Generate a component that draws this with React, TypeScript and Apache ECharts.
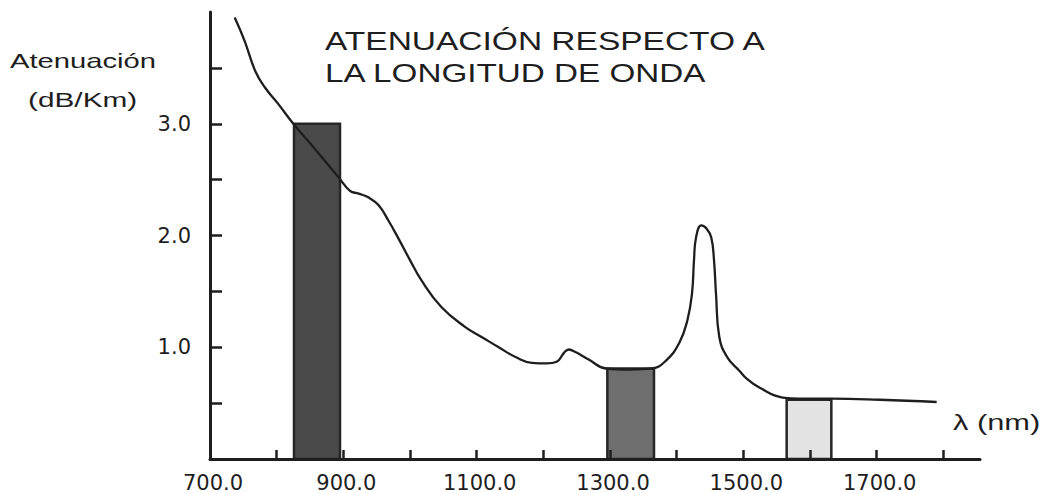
import React, { useEffect, useRef } from "react";
import * as echarts from "echarts";

// Attenuation curve (wavelength in nm, attenuation in dB/Km)
const wavelengths = [
  737, 752, 768, 783, 802, 825, 858, 893, 910, 923, 938, 953, 968, 983, 1000,
  1017, 1047, 1083, 1108, 1133, 1159, 1183, 1205, 1220, 1231, 1238, 1249, 1268,
  1294, 1330, 1363, 1384, 1404, 1416, 1423, 1426, 1429, 1437, 1445, 1452, 1456,
  1459, 1464, 1476, 1494, 1505, 1524, 1559, 1584, 1632, 1705, 1790,
];
const attenuation = [
  3.95, 3.74, 3.47, 3.32, 3.18, 3.0, 2.77, 2.52, 2.4, 2.375, 2.34, 2.27, 2.13,
  1.97, 1.78, 1.6, 1.36, 1.18, 1.09, 1.0, 0.91, 0.86, 0.855, 0.87, 0.95, 0.98,
  0.955, 0.89, 0.81, 0.8, 0.81, 0.88, 1.04, 1.24, 1.48, 1.78, 1.98, 2.09, 2.06,
  1.98, 1.78, 1.48, 1.09, 0.91, 0.79, 0.72, 0.64, 0.55, 0.54, 0.54, 0.53, 0.51,
];

// Transmission windows
const windowStarts = [826, 1296, 1565];
const windowEnds = [895, 1366, 1632];
const windowTops = [3.0, 0.81, 0.53];
const windowColors = ["#4a4a4a", "#6e6e6e", "#e3e3e3"];

// Axis ticks and labels
const xTickValues = [700, 800, 900, 1000, 1100, 1200, 1300, 1400, 1500, 1600, 1700, 1800];
const xLabelValues = [700, 900, 1100, 1300, 1500, 1700];
const yTickValues = [0.5, 1.0, 1.5, 2.0, 2.5, 3.0, 3.5];
const yLabelValues = [1.0, 2.0, 3.0];

const INK = "#1e1e1e";

export default function App() {
  const ref = useRef<HTMLDivElement>(null);

  useEffect(() => {
    if (!ref.current) return;
    const chart = echarts.init(ref.current, undefined, { renderer: "svg" });

    const curve = wavelengths.map((w, i) => [w, attenuation[i]]);
    const windows = windowStarts.map((s, i) => [s, windowEnds[i], windowTops[i], i]);

    const textEl = (text: string, x: number, y: number, size: number, sx: number) => ({
      type: "text",
      x,
      y,
      scaleX: sx,
      z: 20,
      style: {
        text,
        fill: INK,
        fontFamily: "Liberation Sans, Arial, sans-serif",
        fontSize: size,
        align: "left",
        verticalAlign: "middle",
        textAlign: "left",
        textVerticalAlign: "middle",
      },
    });

    chart.setOption({
      animation: false,
      backgroundColor: "#ffffff",
      grid: { left: 210, right: 65, top: 12, bottom: 34 },
      xAxis: {
        type: "value",
        min: 700,
        max: 1855,
        z: 10,
        axisLine: { show: true, lineStyle: { color: INK, width: 3 } },
        axisTick: {
          show: true,
          customValues: xTickValues,
          inside: true,
          length: 9,
          lineStyle: { color: INK, width: 2.5 },
        },
        axisLabel: {
          customValues: xLabelValues,
          formatter: (v: number) => v.toFixed(1),
          fontFamily: "DejaVu Sans",
          fontSize: 21,
          color: INK,
          margin: 13,
          padding: [0, 0, 0, 6],
        },
        splitLine: { show: false },
      },
      yAxis: {
        type: "value",
        min: 0,
        max: 4,
        z: 10,
        axisLine: { show: true, lineStyle: { color: INK, width: 3 } },
        axisTick: {
          show: true,
          customValues: yTickValues,
          inside: true,
          length: 12,
          lineStyle: { color: INK, width: 2.5 },
        },
        axisLabel: {
          customValues: yLabelValues,
          formatter: (v: number) => v.toFixed(1),
          fontFamily: "DejaVu Sans",
          fontSize: 21,
          color: INK,
          margin: 19,
          padding: [0, 0, 10, 0],
        },
        splitLine: { show: false },
      },
      series: [
        {
          type: "custom",
          z: 2,
          data: windows,
          encode: { x: [0, 1], y: 2 },
          renderItem: (params: any, api: any) => {
            const p0 = api.coord([api.value(0), api.value(2)]);
            const p1 = api.coord([api.value(1), 0]);
            const idx = api.value(3);
            return {
              type: "rect",
              shape: { x: p0[0], y: p0[1], width: p1[0] - p0[0], height: p1[1] - p0[1] },
              style: { fill: windowColors[idx], stroke: "#262626", lineWidth: 2.5 },
            };
          },
        },
        {
          type: "line",
          z: 5,
          data: curve,
          smooth: 0.45,
          showSymbol: false,
          lineStyle: { color: INK, width: 2.3 },
        },
      ],
      graphic: [
        textEl("ATENUACIÓN RESPECTO A", 325, 41, 25, 1.34),
        textEl("LA LONGITUD DE ONDA", 325, 73, 25, 1.33),
        textEl("Atenuación", 10, 61, 21, 1.39),
        textEl("(dB/Km)", 28, 100, 21, 1.42),
        textEl("λ (nm)", 953, 423, 22, 1.4),
      ],
    });

    return () => chart.dispose();
  }, []);

  return (
    <div
      ref={ref}
      style={{ position: "absolute", left: 0, top: 0, width: 1045, height: 493, background: "#fff" }}
    />
  );
}
